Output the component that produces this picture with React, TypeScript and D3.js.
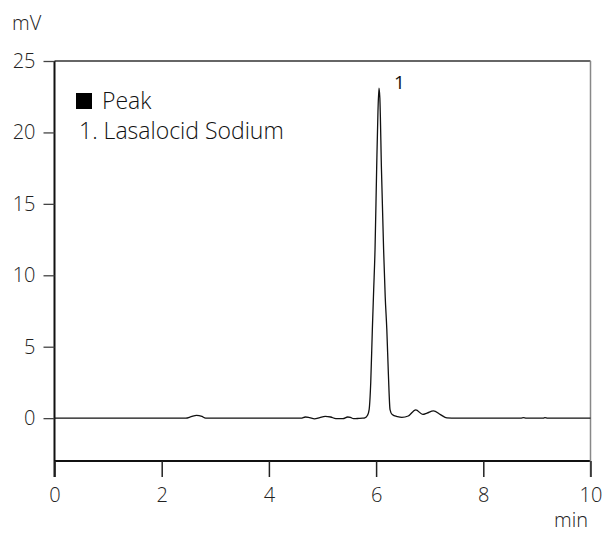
import React, { useEffect, useRef } from 'react';
import * as d3 from 'd3';

const WIDTH = 606;
const HEIGHT = 533;
const PLOT = { left: 54.5, right: 590.5, top: 61, bottom: 461 };
const FONT = "'Open Sans', 'Noto Sans', sans-serif";

// retention time (min) and detector signal (mV)
const times = [
    0, 0.2, 2.45, 2.55, 2.65, 2.75, 2.82,
    4.6, 4.68, 4.76, 4.85, 4.95, 5.05, 5.15, 5.25, 5.38, 5.47, 5.52, 5.58, 5.68, 5.75,
    5.79, 5.84, 5.87, 5.9, 5.93, 5.955, 5.98, 6.01, 6.035, 6.054,
    6.07, 6.1, 6.14, 6.17, 6.2, 6.23, 6.26, 6.3, 6.4, 6.48,
    6.6, 6.74, 6.87, 6.95, 7.07, 7.2, 7.32, 7.5,
    8.7, 8.75, 8.8, 9.12, 9.15, 9.2, 10
];
const signal = [
    0, 0, 0, 0.1, 0.19, 0.12, 0,
    0, 0.08, 0.03, -0.05, 0.04, 0.12, 0.08, -0.03, -0.04, 0.08, 0.05, -0.04, -0.02, 0,
    0.02, 0.2, 0.6, 2.5, 6.2, 9, 11.8, 17.4, 21.5, 23.1,
    22.4, 17.4, 11.8, 8.5, 6.2, 3, 0.6, 0.25, 0.1, 0.05,
    0.15, 0.58, 0.26, 0.35, 0.51, 0.25, 0.02, 0,
    0, 0.03, 0, 0, 0.03, 0, 0
];

const yTicks = [0, 5, 10, 15, 20, 25];
const xTicks = [0, 2, 4, 6, 8, 10];
const peakLabels = [{ name: '1', t: 6.054, v: 23.1 }];
const legendTitle = 'Peak';
const legendItems = ['1. Lasalocid Sodium'];

const App = () => {
    const xAxisRef = useRef(null);
    const yAxisRef = useRef(null);

    const xScale = d3.scaleLinear().domain([0, 10]).range([PLOT.left, PLOT.right]);
    const yScale = d3.scaleLinear().domain([-3, 25]).range([PLOT.bottom, PLOT.top]);

    const line = d3.line()
        .x(i => xScale(times[i]))
        .y(i => yScale(signal[i]))
        .curve(d3.curveMonotoneX);
    const path = line(d3.range(times.length));

    useEffect(() => {
        const xa = d3.select(xAxisRef.current)
            .call(d3.axisBottom(xScale).tickValues(xTicks).tickSize(16).tickPadding(11));
        xa.select('.domain').remove();
        xa.selectAll('line').attr('stroke', '#222').attr('stroke-width', 1.5);
        xa.selectAll('text')
            .attr('font-family', FONT).attr('font-size', 20).attr('font-weight', 300)
            .attr('fill', '#222');

        const ya = d3.select(yAxisRef.current)
            .call(d3.axisLeft(yScale).tickValues(yTicks).tickSize(11).tickPadding(8));
        ya.select('.domain').remove();
        ya.selectAll('line').attr('stroke', '#444').attr('stroke-width', 1.3);
        ya.selectAll('text')
            .attr('font-family', FONT).attr('font-size', 20).attr('font-weight', 300)
            .attr('fill', '#222');
    }, []);

    return (
        <svg width={WIDTH} height={HEIGHT} style={{ position: 'absolute', left: 0, top: 0, background: '#fff' }}>
            {/* frame */}
            <line x1={PLOT.left} x2={PLOT.right} y1={PLOT.top} y2={PLOT.top} stroke="#333" strokeWidth={1.5} />
            <line x1={PLOT.left} x2={PLOT.right} y1={PLOT.bottom} y2={PLOT.bottom} stroke="#111" strokeWidth={2} />
            <line x1={PLOT.left} x2={PLOT.left} y1={PLOT.top} y2={PLOT.bottom + 16} stroke="#111" strokeWidth={2} />
            <line x1={PLOT.right} x2={PLOT.right} y1={PLOT.top} y2={PLOT.bottom + 16} stroke="#888" strokeWidth={1.5} />

            <g ref={xAxisRef} transform={`translate(0, ${PLOT.bottom})`} />
            <g ref={yAxisRef} transform={`translate(${PLOT.left}, 0)`} />

            <path d={path} fill="none" stroke="#111" strokeWidth={1.3} />

            {peakLabels.map(p => (
                <text key={p.name} x={xScale(p.t) + 15} y={yScale(p.v) + 1} fontFamily={FONT}
                    fontSize={19} fill="#111">{p.name}</text>
            ))}

            <text x={12} y={30} fontFamily={FONT} fontSize={20} fontWeight={300} fill="#222">mV</text>
            <text x={588} y={527} textAnchor="end" fontFamily={FONT} fontSize={20} fontWeight={300} fill="#222">min</text>

            <rect x={76} y={93} width={16} height={16} fill="#000" />
            <text x={102} y={109} fontFamily={FONT} fontSize={23} fontWeight={300} fill="#111">{legendTitle}</text>
            {legendItems.map((d, i) => (
                <text key={d} x={79} y={139 + i * 28} fontFamily={FONT} fontSize={23} fontWeight={300} fill="#111">{d}</text>
            ))}
        </svg>
    );
};

export default App;
